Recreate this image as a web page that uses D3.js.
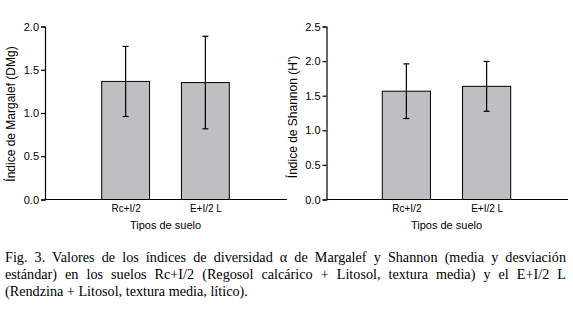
<!DOCTYPE html>
<html><head><meta charset="utf-8">
<script src="https://cdn.jsdelivr.net/npm/d3@7"></script>
<style>body{margin:0;background:#fff}svg{display:block}</style>
</head><body>
<svg id="c" width="573" height="310"></svg>
<script>
const categories = ["Rc+I/2", "E+I/2 L"];
const margalefMean = [1.365, 1.352];
const margalefSD = [0.405, 0.535];
const shannonMean = [1.565, 1.635];
const shannonSD = [0.395, 0.36];
const margalefTicks = [0.0, 0.5, 1.0, 1.5, 2.0];
const shannonTicks = [0.0, 0.5, 1.0, 1.5, 2.0, 2.5];
const captionLines = [
  "Fig. 3. Valores de los índices de diversidad α de Margalef y Shannon (media y desviación",
  "estándar) en los suelos Rc+I/2 (Regosol calcárico + Litosol, textura media) y el E+I/2 L",
  "(Rendzina + Litosol, textura media, lítico)."
];

const svg = d3.select("#c");
const sans = "'Liberation Sans', Arial, sans-serif";

function panel(opts) {
  const g = svg.append("g");
  const y = d3.scaleLinear().domain([0, opts.max]).range([199.5, 26.5]);
  const xb = d3.scaleBand().domain(categories).range([opts.bx0, opts.bx1]).paddingInner(0.4).paddingOuter(0);
  // bars
  g.selectAll("rect.bar").data(opts.mean).join("rect")
    .attr("x", (d, i) => xb(categories[i]))
    .attr("width", xb.bandwidth())
    .attr("y", d => y(d))
    .attr("height", d => y(0) - y(d))
    .attr("fill", "#bebfc1").attr("stroke", "#000").attr("stroke-width", 1);
  // error bars
  opts.mean.forEach((m, i) => {
    const cx = xb(categories[i]) + xb.bandwidth() / 2;
    const top = y(m + opts.sd[i]), bot = y(m - opts.sd[i]);
    g.append("line").attr("x1", cx).attr("x2", cx).attr("y1", top).attr("y2", bot).attr("stroke", "#000").attr("stroke-width", 1.2);
    [top, bot].forEach(v => g.append("line").attr("x1", cx - 3).attr("x2", cx + 3).attr("y1", v).attr("y2", v).attr("stroke", "#000").attr("stroke-width", 1.2));
  });
  // y axis
  const ya = g.append("g").attr("transform", `translate(${opts.x0},0)`)
    .call(d3.axisLeft(y).tickValues(opts.ticks).tickFormat(d3.format(".1f")).tickSize(4).tickPadding(2));
  ya.selectAll("text").attr("font-family", sans).attr("font-size", 11).attr("fill", "#000");
  ya.selectAll("line,path").attr("stroke", "#000").attr("stroke-width", 1.2);
  // x axis
  const xa = g.append("g").attr("transform", `translate(0,${y(0)})`)
    .call(d3.axisBottom(d3.scalePoint().domain(categories).range([xb(categories[0]) + xb.bandwidth() / 2, xb(categories[1]) + xb.bandwidth() / 2])).tickSize(0).tickPadding(5));
  xa.select("path").remove();
  g.append("line").attr("x1", opts.x0).attr("x2", opts.x1).attr("y1", y(0)).attr("y2", y(0)).attr("stroke", "#000").attr("stroke-width", 1.2);
  xa.selectAll("text").attr("font-family", sans).attr("font-size", 10).attr("fill", "#000");
  // titles
  g.append("text").attr("x", (opts.bx0 + opts.bx1) / 2).attr("y", 229)
    .attr("text-anchor", "middle").attr("font-family", sans).attr("font-size", 11).text("Tipos de suelo");
  g.append("text").attr("transform", `translate(${opts.lx},${opts.ly}) rotate(-90)`)
    .attr("text-anchor", "middle").attr("font-family", sans).attr("font-size", 12).text(opts.label);
}

panel({ max: 2.0, mean: margalefMean, sd: margalefSD, ticks: margalefTicks, x0: 45, x1: 287, bx0: 101.7, bx1: 229.3, lx: 15, ly: 114, label: "Índice de Margalef (DMg)" });
panel({ max: 2.5, mean: shannonMean, sd: shannonSD, ticks: shannonTicks, x0: 326.5, x1: 568, bx0: 382.3, bx1: 510.7, lx: 297, ly: 117, label: "Índice de Shannon (H')" });

// caption (justified)
const cap = svg.append("g");
captionLines.forEach((t, i) => {
  const tx = cap.append("text").attr("x", 5).attr("y", 262 + i * 17)
    .attr("font-family", "'Liberation Serif', 'Times New Roman', serif").attr("font-size", 14.2).attr("fill", "#000").text(t);
  if (i < captionLines.length - 1) {
    const w = tx.node().getComputedTextLength();
    const spaces = (t.match(/ /g) || []).length;
    tx.attr("word-spacing", (561 - w) / spaces);
  }
});
</script>
</body></html>
